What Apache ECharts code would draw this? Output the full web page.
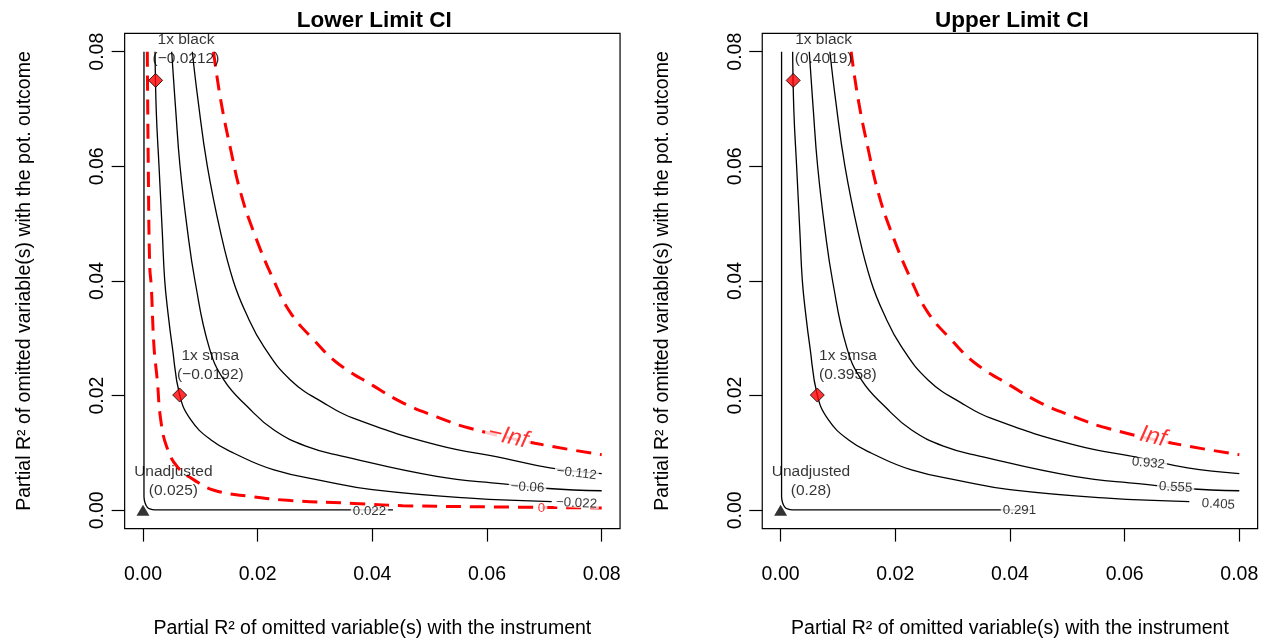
<!DOCTYPE html>
<html><head><meta charset="utf-8">
<script src="https://cdn.jsdelivr.net/npm/echarts@6/dist/echarts.min.js"></script>
<style>html,body{margin:0;padding:0;background:#fff}#c{width:1270px;height:640px}</style>
</head><body><div id="c"></div>
<script>
// ---------- data ----------
const panelTitles = ['Lower Limit CI', 'Upper Limit CI'];
const tickValues = [0, 0.02, 0.04, 0.06, 0.08];
const xAxisTitle = 'Partial R² of omitted variable(s) with the instrument';
const yAxisTitle = 'Partial R² of omitted variable(s) with the pot. outcome';

// contour lines (same shapes in both panels)
const curveA = [[0.00017,0.08],[0.00017,0.02],[0.00017,0.0024],[0.00035,0.0013],[0.0007,0.0006],[0.0012,0.00023],[0.0021,0.00006],[0.01,0.00005],[0.0436,0.00005]];
const curveZero = [[0.00075,0.08],[0.00092,0.0601],[0.00117,0.0426],[0.00145,0.039],[0.00192,0.0285],[0.00249,0.0227],[0.00309,0.0158],[0.00413,0.0111],[0.00598,0.0076],[0.00889,0.0053],[0.01238,0.0035],[0.01878,0.0024],[0.02576,0.0017],[0.0368,0.0012],[0.0453,0.0008],[0.06,0.0006],[0.08,0.0004]];
const curveB = [[0.0021,0.08],[0.00232,0.0695],[0.00279,0.0601],[0.00337,0.0484],[0.00378,0.0402],[0.00436,0.0344],[0.00511,0.0285],[0.0064,0.0201],[0.00832,0.0158],[0.01181,0.0123],[0.01587,0.00995],[0.02285,0.00703],[0.03157,0.0051],[0.04,0.0036],[0.05703,0.0021],[0.07128,0.0015]];
const curveC = [[0.005,0.08],[0.0057,0.0699],[0.00645,0.0601],[0.00773,0.049],[0.00907,0.04],[0.01151,0.0285],[0.01413,0.0227],[0.01819,0.0181],[0.02285,0.014],[0.02865,0.0111],[0.03448,0.0095],[0.05122,0.0059],[0.06284,0.0046],[0.07068,0.0038],[0.08,0.0034]];
const curveD = [[0.0086,0.08],[0.00959,0.0716],[0.01121,0.0601],[0.01355,0.0484],[0.01575,0.04],[0.01796,0.0344],[0.0211,0.0285],[0.02576,0.0227],[0.03157,0.0187],[0.03737,0.0158],[0.05122,0.0114],[0.06284,0.0091],[0.07098,0.0074],[0.08,0.0064]];
const curveInf = [[0.0123,0.08],[0.01355,0.0716],[0.0153,0.0629],[0.01704,0.0554],[0.01936,0.0484],[0.02285,0.04],[0.02576,0.0344],[0.02982,0.0297],[0.03389,0.0257],[0.0402,0.0217],[0.0454,0.0187],[0.05122,0.0163],[0.05703,0.0143],[0.06836,0.0117],[0.08,0.0097]];

// contour level labels
const lowerLevels = ['0.022', '0', '−0.022', '−0.06', '−0.112', '−Inf'];
const upperLevels = ['0.291', '0.405', '0.555', '0.932', 'Inf'];

// benchmark points
const benchNames = ['Unadjusted', '1x smsa', '1x black'];
const benchX = [0, 0.0064, 0.0022];
const benchY = [0, 0.0201, 0.075];
const lowerBenchValues = ['(0.025)', '(−0.0192)', '(−0.0212)'];
const upperBenchValues = ['(0.28)', '(0.3958)', '(0.4019)'];

// ---------- layout (label anchors, in data units) ----------
const benchLabelPos = [[0.0053, 0.0051], [0.01174, 0.0253], [0.0075, 0.0804]];
const lowerLevelPos = [[0.0395, -0.00012], [0.06951, 0.00035], [0.0756, 0.00122], [0.06706, 0.00401], [0.07563, 0.00646], [0.06366, 0.01285]];
const lowerLevelRot = [0, 0, -3, -3, -7, -13];
const upperLevelPos = [[0.04166, -0.0001], [0.07634, 0.00105], [0.0689, 0.00401], [0.06413, 0.0082], [0.06495, 0.01284]];
const upperLevelRot = [0, -3, -3, -6, -13];

const FONT = '"Liberation Sans", Arial, Helvetica, sans-serif';
const RED = '#ff0000';
const gridLefts = [124.65, 762.25];
const GW = 495.4, GT = 33.4, GH = 495.2;

const chart = echarts.init(document.getElementById('c'), null, {renderer: 'canvas'});

const grids = [], xAxes = [], yAxes = [], titles = [], series = [];

function lineSeries(i, data, red) {
  return {
    type: 'line', xAxisIndex: i, yAxisIndex: i, data: data, showSymbol: false,
    smooth: 0.45, animation: false, silent: true, clip: false,
    lineStyle: red ? {color: RED, width: 3, type: [15, 9]} : {color: '#000', width: 1.3}
  };
}

for (let i = 0; i < 2; i++) {
  grids.push({left: gridLefts[i], top: GT, width: GW, height: GH, show: true,
    outerBoundsMode: 'none', containLabel: false,
    borderColor: '#000', borderWidth: 1.2, backgroundColor: 'transparent'});
  titles.push({text: panelTitles[i], left: gridLefts[i] + GW / 2 - 3, top: 4, textAlign: 'center',
    textStyle: {fontFamily: FONT, fontSize: 22.5, fontWeight: 'bold', color: '#000'}});
  const common = {
    gridIndex: i, type: 'value', min: -0.0032, max: 0.0832,
    axisLine: {show: false, onZero: false}, splitLine: {show: false},
    axisTick: {show: true, inside: false, length: 13, lineStyle: {color: '#000', width: 1.2}, customValues: tickValues},
    nameLocation: 'middle',
    nameTextStyle: {fontFamily: FONT, fontSize: 19.5, color: '#000'}
  };
  xAxes.push(Object.assign({}, common, {
    position: 'bottom', name: xAxisTitle, nameGap: 90,
    axisLabel: {customValues: tickValues, formatter: v => v.toFixed(2), fontFamily: FONT, fontSize: 19.5, color: '#000', margin: 36}
  }));
  yAxes.push(Object.assign({}, common, {
    position: 'left', name: yAxisTitle, nameGap: 90,
    axisLabel: {customValues: tickValues, formatter: v => v.toFixed(2), rotate: 90, fontFamily: FONT, fontSize: 19.5, color: '#000', margin: 17}
  }));

  // contour lines
  series.push(lineSeries(i, curveA, false));
  if (i === 0) series.push(lineSeries(i, curveZero, true));
  series.push(lineSeries(i, curveB, false));
  series.push(lineSeries(i, curveC, false));
  series.push(lineSeries(i, curveD, false));
  series.push(lineSeries(i, curveInf, true));

  // contour level labels (white box breaks the line like R does)
  const levels = i === 0 ? lowerLevels : upperLevels;
  const lpos = i === 0 ? lowerLevelPos : upperLevelPos;
  const lrot = i === 0 ? lowerLevelRot : upperLevelRot;
  series.push({
    type: 'scatter', xAxisIndex: i, yAxisIndex: i, symbolSize: 0, animation: false, silent: true, z: 5,
    data: levels.map((t, k) => {
      const isRed = t === '0' || t.indexOf('Inf') >= 0;
      const isInf = t.indexOf('Inf') >= 0;
      return {
        value: lpos[k],
        label: {
          show: true, position: 'inside', formatter: t, rotate: lrot[k],
          fontFamily: FONT, fontSize: isInf ? 24 : 13.3, fontStyle: isInf ? 'italic' : 'normal',
          color: isRed ? RED : '#000', backgroundColor: '#fff',
          lineHeight: isInf ? 20 : 9, padding: isInf ? [0, 3] : [0, 2]
        }
      };
    })
  });

  // benchmark markers
  series.push({
    type: 'scatter', xAxisIndex: i, yAxisIndex: i, animation: false, silent: true, z: 6, clip: false,
    data: benchX.map((x, k) => ({
      value: [x, benchY[k]],
      symbol: k === 0 ? 'triangle' : 'diamond',
      symbolSize: k === 0 ? [13, 11] : [14, 14],
      itemStyle: k === 0 ? {color: '#000'} : {color: RED, borderColor: '#000', borderWidth: 1}
    }))
  });
  // benchmark labels
  const vals = i === 0 ? lowerBenchValues : upperBenchValues;
  series.push({
    type: 'scatter', xAxisIndex: i, yAxisIndex: i, symbolSize: 0, animation: false, silent: true, z: 7,
    data: benchNames.map((n, k) => ({
      value: benchLabelPos[k],
      label: {show: true, position: 'inside', formatter: n + '\n' + vals[k],
        fontFamily: FONT, fontSize: 15.5, lineHeight: 19.5, color: '#000', align: 'center'}
    }))
  });
}

chart.setOption({
  backgroundColor: '#fff',
  animation: false,
  title: titles,
  grid: grids,
  xAxis: xAxes,
  yAxis: yAxes,
  series: series
});
</script></body></html>
